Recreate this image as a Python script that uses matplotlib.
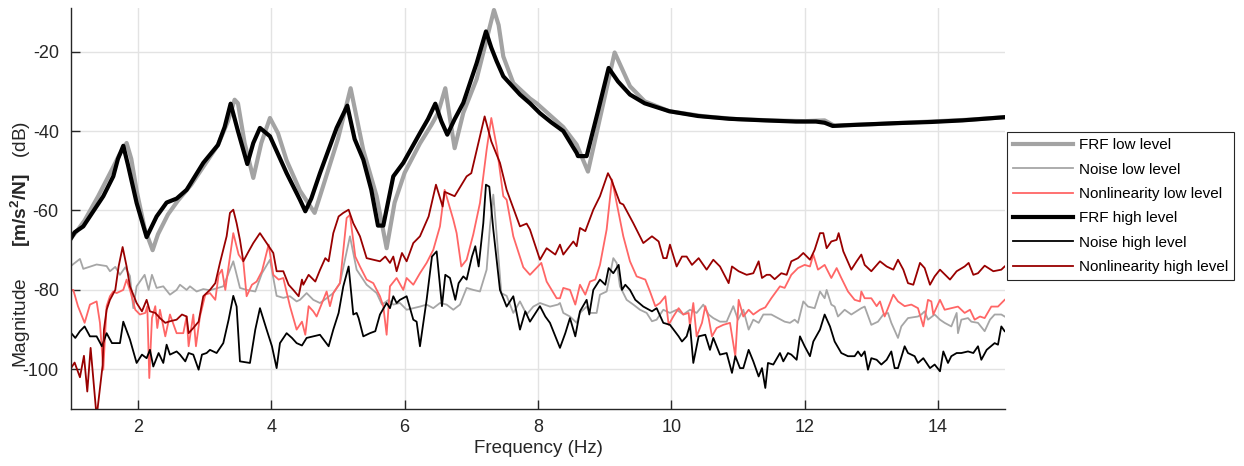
import matplotlib
matplotlib.use("Agg")
import matplotlib.pyplot as plt

plt.rcParams['font.family'] = ['Liberation Sans', 'DejaVu Sans']
plt.rcParams['mathtext.fontset'] = 'custom'
plt.rcParams['mathtext.rm'] = 'Liberation Sans'
plt.rcParams['mathtext.bf'] = 'Liberation Sans:bold'
plt.rcParams['axes.unicode_minus'] = False

# FRF low level (thick gray)
f_frf_low = [1.0, 1.1, 1.2, 1.4, 1.6, 1.72, 1.83, 1.9, 1.98, 2.1, 2.22, 2.3, 2.45, 2.6, 2.8,
             3.0, 3.2, 3.35, 3.45, 3.5, 3.6, 3.73, 3.85, 3.98, 4.1, 4.23, 4.43, 4.65, 4.73,
             5.0, 5.19, 5.38, 5.58, 5.73, 5.85, 6.0, 6.23, 6.4, 6.5, 6.61, 6.7, 6.75, 6.88,
             7.08, 7.23, 7.34, 7.41, 7.48, 7.63, 7.88, 7.98, 8.38, 8.58, 8.75, 8.98, 9.15,
             9.38, 9.6, 9.97, 10.5, 11.0, 11.5, 12.0, 12.3, 12.45, 12.6, 13.0, 13.5, 14.0,
             14.5, 15.0]
m_frf_low = [-66.9, -64.8, -62.5, -56.5, -50.0, -46.0, -43.0, -47.0, -55.0, -64.5, -70.0, -66.0,
             -61.0, -57.5, -53.5, -48.5, -43.5, -37.5, -32.1, -33.0, -43.0, -51.8, -43.0, -36.7,
             -40.5, -47.4, -55.0, -60.6, -56.4, -42.0, -29.2, -44.8, -56.4, -69.5, -58.0, -50.5,
             -43.1, -38.5, -35.5, -29.2, -39.0, -44.3, -35.4, -26.9, -16.9, -9.5, -13.3, -21.2,
             -27.9, -31.8, -33.0, -39.0, -43.4, -50.2, -33.0, -20.2, -28.7, -32.5, -35.0, -36.3,
             -37.0, -37.3, -37.5, -37.3, -38.7, -38.5, -38.3, -37.9, -37.5, -37.1, -36.5]

# Noise low level (thin gray)
f_noise_low = [1.0, 1.13, 1.18, 1.38, 1.53, 1.58, 1.66, 1.73, 1.81, 1.88, 1.93, 1.98, 2.1, 2.16,
               2.21, 2.28, 2.38, 2.48, 2.58, 2.63, 2.73, 2.78, 2.88, 2.98, 3.08, 3.18, 3.28, 3.43,
               3.53, 3.63, 3.76, 3.86, 3.98, 4.08, 4.18, 4.28, 4.38, 4.43, 4.53, 4.63, 4.73, 4.83,
               4.93, 5.03, 5.18, 5.28, 5.43, 5.58, 5.66, 5.76, 5.83, 5.93, 6.03, 6.13, 6.23, 6.33,
               6.43, 6.53, 6.63, 6.73, 6.83, 6.93, 7.03, 7.13, 7.23, 7.28, 7.33, 7.38, 7.45, 7.53,
               7.63, 7.73, 7.83, 7.93, 8.03, 8.18, 8.3, 8.33, 8.38, 8.48, 8.58, 8.63, 8.73, 8.78,
               8.88, 8.93, 9.03, 9.13, 9.18, 9.23, 9.33, 9.43, 9.53, 9.63, 9.71, 9.78, 9.88, 9.98,
               10.08, 10.18, 10.28, 10.38, 10.48, 10.56, 10.63, 10.73, 10.83, 10.93, 11.0, 11.08,
               11.16, 11.23, 11.31, 11.38, 11.5, 11.6, 11.7, 11.78, 11.85, 11.9, 11.98, 12.05,
               12.15, 12.23, 12.3, 12.33, 12.4, 12.45, 12.5, 12.6, 12.7, 12.85, 12.9, 13.0, 13.1,
               13.18, 13.25, 13.3, 13.4, 13.45, 13.55, 13.7, 13.75, 13.8, 13.85, 13.95, 14.03,
               14.1, 14.2, 14.28, 14.3, 14.35, 14.45, 14.5, 14.6, 14.7, 14.78, 14.85, 14.95, 15.0]
m_noise_low = [-73.9, -72.2, -74.7, -73.6, -74.0, -75.3, -74.2, -76.2, -74.3, -76.5, -84.6, -79.1,
               -76.2, -80.0, -76.2, -79.5, -79.1, -81.2, -80.0, -78.7, -80.0, -79.1, -80.4, -79.8,
               -80.1, -79.6, -79.1, -72.8, -79.5, -80.0, -80.4, -75.8, -72.4, -81.5, -82.0, -81.6,
               -82.9, -82.5, -80.8, -82.5, -83.3, -82.1, -80.8, -78.3, -66.5, -74.9, -78.7, -80.8,
               -83.7, -82.5, -83.7, -83.3, -85.0, -84.6, -84.2, -83.7, -84.6, -83.3, -83.7, -85.0,
               -83.7, -79.5, -80.0, -80.4, -74.9, -64.0, -56.0, -66.0, -80.8, -81.5, -85.8, -82.9,
               -86.2, -84.2, -83.3, -84.2, -83.7, -83.3, -85.8, -86.7, -88.3, -85.8, -84.2, -85.8,
               -85.8, -81.2, -80.4, -72.0, -73.2, -79.1, -82.5, -83.7, -85.0, -85.8, -87.9, -87.5,
               -85.0, -85.8, -85.0, -86.2, -85.0, -85.8, -83.7, -86.2, -87.1, -88.0, -88.0, -84.1,
               -87.5, -85.0, -90.0, -87.5, -88.3, -86.2, -86.2, -87.1, -88.0, -88.3, -87.5, -88.3,
               -82.9, -84.2, -84.6, -80.4, -82.1, -80.0, -83.7, -84.2, -86.7, -85.0, -86.2, -84.6,
               -84.2, -88.8, -88.0, -86.2, -85.8, -88.3, -92.1, -89.2, -87.1, -86.7, -86.2, -85.4,
               -87.5, -86.2, -87.5, -88.3, -89.2, -85.8, -90.9, -87.5, -87.1, -88.0, -88.3, -90.4,
               -87.5, -86.2, -86.2, -86.7]

# Nonlinearity low level (light red)
f_nl_low = [1.0, 1.03, 1.1, 1.2, 1.28, 1.38, 1.43, 1.48, 1.53, 1.58, 1.63, 1.68, 1.78, 1.83, 1.88,
            1.96, 2.03, 2.11, 2.14, 2.17, 2.21, 2.26, 2.29, 2.33, 2.41, 2.48, 2.58, 2.68, 2.73,
            2.76, 2.83, 2.87, 2.93, 3.01, 3.08, 3.16, 3.21, 3.26, 3.31, 3.43, 3.51, 3.58, 3.63,
            3.71, 3.78, 3.86, 3.96, 4.03, 4.11, 4.18, 4.28, 4.38, 4.46, 4.51, 4.56, 4.63, 4.68,
            4.78, 4.83, 4.88, 4.93, 5.03, 5.13, 5.18, 5.26, 5.33, 5.43, 5.53, 5.63, 5.68, 5.73,
            5.78, 5.88, 5.98, 6.03, 6.13, 6.23, 6.33, 6.43, 6.53, 6.6, 6.73, 6.78, 6.85, 6.93,
            7.03, 7.13, 7.23, 7.3, 7.38, 7.48, 7.53, 7.63, 7.78, 7.88, 8.05, 8.13, 8.28, 8.33,
            8.38, 8.48, 8.56, 8.63, 8.71, 8.78, 8.86, 8.93, 9.03, 9.11, 9.28, 9.38, 9.48, 9.61,
            9.68, 9.76, 9.83, 9.91, 9.96, 10.03, 10.11, 10.18, 10.26, 10.28, 10.33, 10.38, 10.46,
            10.51, 10.56, 10.61, 10.68, 10.78, 10.88, 10.96, 11.01, 11.08, 11.16, 11.23, 11.33,
            11.41, 11.5, 11.63, 11.7, 11.8, 11.9, 12.0, 12.08, 12.13, 12.2, 12.3, 12.4, 12.48,
            12.55, 12.65, 12.75, 12.83, 12.85, 12.9, 13.0, 13.08, 13.13, 13.2, 13.33, 13.4, 13.5,
            13.6, 13.7, 13.78, 13.85, 13.9, 13.93, 14.03, 14.1, 14.2, 14.3, 14.4, 14.48, 14.55,
            14.63, 14.7, 14.8, 14.9, 15.0]
m_nl_low = [-80.0, -80.0, -84.1, -88.3, -83.7, -82.9, -88.3, -100.1, -84.1, -81.6, -80.4, -80.8,
            -80.0, -77.4, -80.0, -85.0, -86.2, -85.8, -84.1, -102.2, -87.1, -84.1, -89.6, -85.0,
            -91.7, -86.2, -90.9, -90.9, -86.7, -94.2, -86.2, -94.2, -86.7, -81.2, -80.8, -82.5,
            -76.2, -74.9, -80.0, -65.7, -71.1, -72.8, -81.6, -78.7, -77.9, -75.3, -68.6, -76.2,
            -77.4, -77.0, -84.1, -90.0, -88.0, -91.3, -84.1, -85.4, -86.7, -82.5, -80.4, -84.1,
            -80.8, -78.3, -61.9, -61.1, -71.6, -74.1, -77.4, -78.3, -81.6, -84.1, -91.3, -79.1,
            -77.0, -80.0, -77.0, -78.7, -75.8, -73.2, -69.9, -64.0, -54.8, -62.3, -65.7, -74.1,
            -72.4, -66.0, -58.1, -44.7, -36.7, -43.8, -56.4, -57.3, -66.5, -74.3, -76.2, -73.2,
            -77.9, -82.1, -82.1, -79.5, -80.0, -83.7, -78.7, -81.2, -77.9, -77.4, -73.7, -64.8,
            -52.2, -66.5, -72.8, -76.6, -77.4, -80.4, -84.1, -83.3, -81.6, -88.8, -86.7, -84.6,
            -86.2, -85.8, -89.2, -83.3, -91.7, -88.3, -84.1, -87.1, -91.7, -89.6, -88.8, -88.3,
            -96.7, -82.5, -86.7, -85.0, -86.2, -85.0, -84.4, -82.1, -79.1, -79.5, -76.2, -74.5,
            -73.7, -74.1, -71.1, -74.9, -73.7, -77.0, -74.5, -77.0, -80.4, -82.5, -82.9, -80.4,
            -82.1, -82.1, -84.1, -82.9, -86.7, -81.2, -82.9, -84.1, -83.7, -84.6, -89.2, -82.5,
            -82.9, -86.2, -82.5, -85.0, -84.6, -84.2, -85.8, -85.0, -87.5, -86.7, -87.1, -84.2,
            -84.2, -82.5]

# FRF high level (thick black)
f_frf_high = [1.0, 1.05, 1.18, 1.48, 1.63, 1.7, 1.78, 1.85, 1.98, 2.13, 2.28, 2.43, 2.58, 2.73,
              2.98, 3.2, 3.3, 3.39, 3.5, 3.64, 3.73, 3.83, 3.98, 4.23, 4.43, 4.51, 4.6, 4.73,
              4.98, 5.14, 5.25, 5.38, 5.5, 5.6, 5.68, 5.83, 5.98, 6.23, 6.35, 6.46, 6.55, 6.64,
              6.75, 6.88, 7.08, 7.22, 7.3, 7.38, 7.48, 7.73, 7.88, 8.03, 8.2, 8.38, 8.58, 8.6,
              8.73, 8.9, 9.06, 9.2, 9.38, 9.6, 9.97, 10.4, 10.87, 11.4, 11.87, 12.17, 12.3, 12.42,
              12.8, 13.37, 13.9, 14.37, 15.0]
m_frf_high = [-66.9, -65.5, -64.0, -56.4, -51.4, -47.0, -43.7, -48.5, -58.1, -66.7, -61.5, -58.0,
              -57.0, -54.8, -48.0, -43.5, -39.0, -33.1, -40.0, -48.3, -43.0, -39.2, -41.3, -50.6,
              -57.3, -60.2, -57.0, -50.6, -39.2, -33.6, -42.0, -47.2, -54.8, -63.8, -63.8, -51.4,
              -48.0, -40.5, -37.0, -33.1, -37.5, -40.9, -37.0, -32.9, -22.9, -14.9, -19.0, -22.4,
              -26.2, -30.8, -33.0, -35.5, -37.8, -40.0, -45.5, -46.3, -46.3, -35.0, -24.1, -27.5,
              -30.8, -33.0, -35.0, -36.2, -36.9, -37.3, -37.6, -37.6, -37.9, -38.7, -38.4, -38.0,
              -37.7, -37.3, -36.5]

# Noise high level (thin black)
f_noise_high = [1.0, 1.06, 1.13, 1.2, 1.28, 1.38, 1.46, 1.53, 1.61, 1.73, 1.78, 1.88, 1.98, 2.06,
                2.13, 2.18, 2.23, 2.31, 2.38, 2.43, 2.48, 2.58, 2.63, 2.71, 2.76, 2.83, 2.91, 2.96,
                3.03, 3.08, 3.18, 3.28, 3.36, 3.43, 3.48, 3.53, 3.68, 3.76, 3.83, 3.93, 4.01, 4.08,
                4.13, 4.23, 4.31, 4.38, 4.46, 4.53, 4.63, 4.73, 4.86, 4.93, 5.01, 5.08, 5.16, 5.23,
                5.28, 5.31, 5.38, 5.48, 5.56, 5.63, 5.73, 5.78, 5.83, 5.88, 5.93, 6.03, 6.13, 6.18,
                6.23, 6.33, 6.41, 6.48, 6.56, 6.61, 6.68, 6.76, 6.81, 6.88, 6.93, 7.01, 7.06, 7.11,
                7.18, 7.22, 7.27, 7.33, 7.43, 7.53, 7.63, 7.73, 7.81, 7.88, 8.03, 8.11, 8.18, 8.26,
                8.33, 8.41, 8.48, 8.56, 8.63, 8.73, 8.77, 8.83, 8.93, 9.01, 9.06, 9.13, 9.21, 9.26,
                9.31, 9.38, 9.46, 9.58, 9.71, 9.78, 9.88, 9.98, 10.11, 10.16, 10.23, 10.28, 10.33,
                10.41, 10.51, 10.58, 10.63, 10.73, 10.83, 10.91, 10.96, 11.03, 11.08, 11.16, 11.23,
                11.31, 11.36, 11.41, 11.45, 11.53, 11.63, 11.68, 11.75, 11.8, 11.88, 11.93, 12.0,
                12.08, 12.13, 12.23, 12.3, 12.38, 12.45, 12.55, 12.65, 12.75, 12.8, 12.85, 12.9,
                12.95, 13.0, 13.08, 13.15, 13.23, 13.3, 13.35, 13.4, 13.5, 13.55, 13.65, 13.7,
                13.78, 13.88, 13.95, 14.03, 14.08, 14.15, 14.2, 14.28, 14.35, 14.45, 14.53, 14.6,
                14.65, 14.73, 14.85, 14.9, 14.95, 15.0]
m_noise_high = [-90.9, -92.1, -90.4, -89.2, -91.7, -91.7, -94.2, -90.9, -93.4, -93.4, -88.0, -92.5,
                -98.4, -96.3, -97.2, -95.1, -99.3, -95.9, -98.4, -93.8, -96.3, -95.5, -96.3, -98.0,
                -95.9, -96.3, -100.1, -96.3, -95.9, -95.1, -95.9, -93.4, -87.5, -81.5, -84.2, -98.0,
                -98.4, -90.0, -84.6, -90.0, -94.2, -99.7, -93.4, -90.9, -92.1, -93.4, -94.0, -92.1,
                -91.7, -91.3, -94.2, -90.0, -85.8, -79.1, -74.1, -86.2, -85.8, -87.1, -91.7, -90.9,
                -90.4, -86.2, -83.3, -84.6, -81.6, -83.3, -82.5, -81.6, -87.5, -88.0, -94.2, -82.5,
                -71.6, -70.3, -84.1, -76.2, -77.0, -82.5, -78.3, -76.6, -77.4, -71.6, -69.0, -74.1,
                -63.2, -53.5, -54.0, -64.8, -80.0, -84.2, -81.6, -90.0, -85.4, -88.0, -84.1, -86.7,
                -88.3, -91.7, -94.6, -90.9, -87.1, -91.7, -85.4, -82.5, -86.2, -80.0, -77.4, -78.7,
                -74.5, -75.8, -73.7, -80.0, -78.7, -80.0, -82.5, -84.2, -85.4, -84.6, -88.3, -88.8,
                -91.7, -93.0, -91.7, -88.8, -98.4, -91.7, -91.3, -95.1, -92.1, -96.3, -95.9, -100.9,
                -96.7, -99.7, -99.7, -95.1, -98.0, -101.8, -99.7, -104.7, -98.4, -98.8, -95.9, -98.0,
                -95.9, -96.3, -97.6, -91.7, -94.2, -96.7, -93.0, -90.0, -86.2, -89.2, -93.0, -95.9,
                -96.7, -96.7, -95.5, -96.7, -95.5, -100.1, -97.2, -97.6, -98.8, -97.6, -95.5, -99.7,
                -99.7, -94.2, -95.9, -96.7, -98.4, -97.2, -99.7, -98.8, -100.5, -95.5, -98.4, -96.7,
                -95.9, -95.9, -95.5, -95.9, -94.2, -97.6, -95.1, -93.4, -93.8, -89.2, -90.4]

# Nonlinearity high level (dark red)
f_nl_high = [1.0, 1.05, 1.13, 1.19, 1.24, 1.29, 1.38, 1.47, 1.49, 1.53, 1.58, 1.66, 1.71, 1.77,
             1.83, 1.88, 1.98, 2.06, 2.13, 2.18, 2.26, 2.33, 2.41, 2.48, 2.58, 2.66, 2.73, 2.76,
             2.83, 2.91, 2.98, 3.08, 3.16, 3.23, 3.33, 3.38, 3.43, 3.48, 3.53, 3.58, 3.66, 3.73,
             3.83, 3.93, 4.03, 4.08, 4.18, 4.26, 4.33, 4.41, 4.46, 4.48, 4.56, 4.66, 4.73, 4.81,
             4.86, 4.93, 5.01, 5.08, 5.16, 5.23, 5.33, 5.43, 5.53, 5.63, 5.71, 5.78, 5.83, 5.88,
             5.96, 6.03, 6.13, 6.23, 6.36, 6.47, 6.57, 6.6, 6.75, 6.93, 7.0, 7.13, 7.2, 7.3,
             7.43, 7.53, 7.73, 7.83, 7.88, 8.03, 8.13, 8.26, 8.33, 8.38, 8.53, 8.58, 8.63, 8.71,
             8.83, 8.93, 9.05, 9.1, 9.23, 9.28, 9.43, 9.58, 9.71, 9.81, 9.88, 9.93, 9.98, 10.08,
             10.16, 10.23, 10.31, 10.41, 10.53, 10.63, 10.73, 10.86, 10.91, 11.01, 11.13, 11.23,
             11.31, 11.36, 11.43, 11.48, 11.55, 11.65, 11.73, 11.8, 11.9, 11.98, 12.08, 12.15,
             12.23, 12.28, 12.33, 12.4, 12.48, 12.51, 12.58, 12.7, 12.78, 12.85, 12.9, 13.0,
             13.13, 13.23, 13.33, 13.4, 13.48, 13.55, 13.63, 13.73, 13.8, 13.88, 13.95, 14.03,
             14.18, 14.28, 14.4, 14.46, 14.53, 14.6, 14.7, 14.83, 14.95, 15.0]
m_nl_high = [-99.6, -98.3, -102.0, -96.6, -105.6, -94.6, -112.0, -99.0, -90.0, -85.0, -82.5, -80.0,
             -74.1, -69.2, -74.1, -79.1, -83.3, -85.4, -82.5, -85.4, -85.8, -87.1, -88.3, -87.9,
             -87.5, -86.2, -86.7, -90.9, -89.6, -88.0, -81.6, -80.0, -78.3, -73.2, -66.5, -60.6,
             -59.8, -63.2, -67.4, -72.8, -70.3, -68.2, -65.7, -68.2, -70.7, -75.3, -75.3, -78.7,
             -80.0, -81.6, -77.4, -78.7, -76.2, -77.9, -75.0, -72.0, -72.8, -65.7, -61.5, -60.6,
             -59.8, -63.2, -66.5, -72.0, -72.4, -72.8, -71.6, -73.2, -71.6, -75.3, -70.7, -72.8,
             -68.2, -66.5, -61.5, -53.5, -59.0, -55.3, -56.4, -51.4, -50.6, -41.3, -36.3, -42.6,
             -48.0, -54.8, -64.0, -63.3, -64.8, -72.4, -69.5, -71.1, -68.6, -71.1, -67.8, -69.0,
             -64.4, -65.2, -59.8, -56.4, -50.6, -52.2, -58.1, -58.5, -63.2, -68.2, -66.5, -67.8,
             -72.0, -72.0, -68.6, -74.1, -71.6, -71.6, -73.7, -72.0, -74.9, -72.4, -74.1, -78.3,
             -74.1, -75.3, -76.2, -75.8, -72.8, -77.0, -76.2, -76.2, -77.3, -75.8, -76.2, -72.8,
             -72.0, -70.7, -72.4, -69.9, -65.7, -65.7, -69.5, -67.8, -67.4, -65.7, -70.3, -74.9,
             -72.8, -71.1, -73.7, -75.3, -72.8, -74.1, -74.9, -72.4, -74.9, -78.3, -78.7, -73.2,
             -74.5, -78.7, -76.6, -74.9, -77.4, -75.3, -74.1, -73.2, -76.2, -75.8, -73.9, -75.3,
             -74.9, -74.1]

labels = ['FRF low level', 'Noise low level', 'Nonlinearity low level',
          'FRF high level', 'Noise high level', 'Nonlinearity high level']

fig = plt.figure(figsize=(12.44, 4.66), dpi=100)
ax = fig.add_axes([0.0573, 0.1223, 0.7503, 0.8605])

ax.plot(f_frf_low, m_frf_low, color='#a3a3a3', lw=3.0, label=labels[0])
ax.plot(f_noise_low, m_noise_low, color='#a6a6a6', lw=1.3, label=labels[1])
ax.plot(f_nl_low, m_nl_low, color='#ff6666', lw=1.3, label=labels[2])
ax.plot(f_frf_high, m_frf_high, color='black', lw=3.0, label=labels[3])
ax.plot(f_noise_high, m_noise_high, color='black', lw=1.3, label=labels[4])
ax.plot(f_nl_high, m_nl_high, color='#990000', lw=1.3, label=labels[5])

ax.set_xlim(1, 15)
ax.set_ylim(-110, -9)
ax.set_xticks([2, 4, 6, 8, 10, 12, 14])
ax.set_yticks([-100, -80, -60, -40, -20])
ax.grid(True, color='#e3e3e3', lw=1.0)
ax.set_axisbelow(True)

for s in ['top', 'right']:
    ax.spines[s].set_visible(False)
for s in ['left', 'bottom']:
    ax.spines[s].set_color('#262626')
    ax.spines[s].set_linewidth(1.0)
ax.tick_params(direction='in', length=6.5, width=1.0, color='#262626',
               labelsize=13, labelcolor='#262626')
ax.tick_params(axis='y', pad=9)
ax.tick_params(axis='x', pad=7)

ax.set_xlabel('Frequency (Hz)', fontsize=13.5, color='#262626', labelpad=3)
ax.set_ylabel(r'Magnitude      $\mathbf{[m/s^2/N]}$   (dB)', fontsize=13.8, color='#262626')
ax.yaxis.set_label_coords(-0.041, 0.41)

leg = fig.legend(loc='upper left', bbox_to_anchor=(0.8095, 0.7167), fontsize=11,
                 handlelength=3.9, labelspacing=0.68, borderaxespad=0, fancybox=False,
                 framealpha=1, edgecolor='#262626', borderpad=0.4, handletextpad=0.4)
leg.get_frame().set_linewidth(0.8)

fig.savefig('out.png', dpi=100)
